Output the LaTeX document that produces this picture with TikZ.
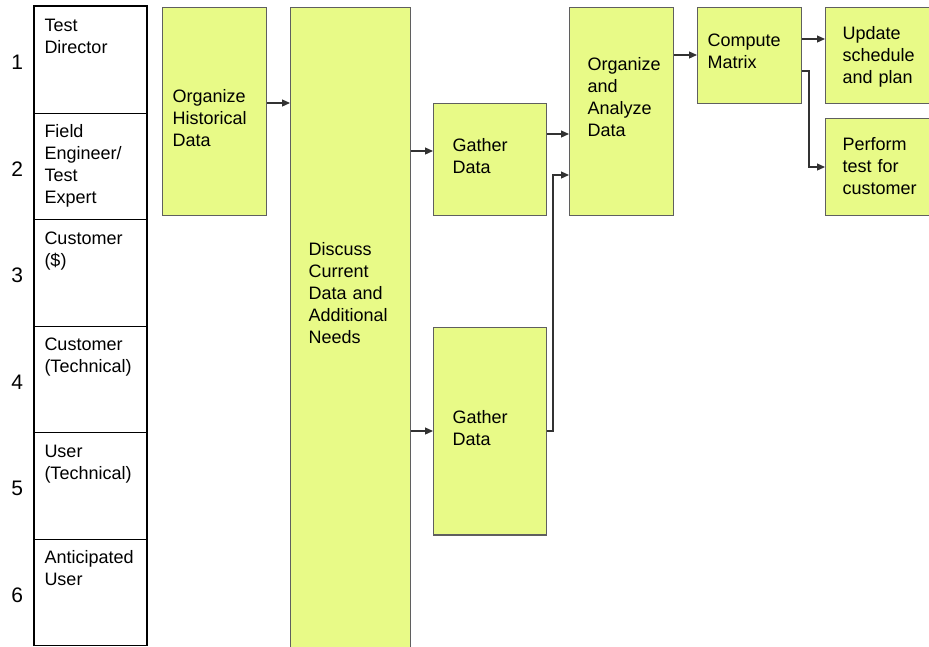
\documentclass[tikz,border=0pt]{standalone}
\usepackage{fontspec}
\setmainfont{Liberation Sans}
\usepackage{tikz}
\usetikzlibrary{positioning, arrows.meta}
\definecolor{boxfill}{RGB}{232,250,135}
\definecolor{boxline}{RGB}{95,95,95}
\definecolor{flowline}{RGB}{50,50,50}

\begin{document}
\begin{tikzpicture}[
	x=1pt, y=-1pt,
	every node/.style={inner sep=0pt, font=\fontsize{18}{22}\selectfont},
	lane/.style={draw, line width=1pt, anchor=north west, minimum width=112pt, minimum height=106.5pt,
		text width=92pt, align=left, text height=13pt, text depth=69.7pt},
	lanenum/.style={font=\fontsize{21}{25}\selectfont, yshift=-3pt},
	stepbox/.style={draw=boxline, fill=boxfill, line width=1.2pt, anchor=north west, align=left, text height=13pt},
	flow/.style={draw=flowline, line width=1.2pt, -{Triangle[length=8pt, width=7pt]}},
	]
	\useasboundingbox (0,0) rectangle (929,646);
	
	% roles
	\foreach \i/\who in {1/{Test\\Director}, 2/{Field\\Engineer/\\Test\\Expert}, 3/{Customer\\(\$)},
		4/{Customer\\(Technical)}, 5/{User\\(Technical)}, 6/{Anticipated\\User}} {
		\node[lane] (lane\i) at (34, {6+(\i-1)*106.5}) {\who};
		\node[lanenum, left=10.7pt of lane\i.west] (num\i) {\i};
	}
	\draw[line width=2.5pt] (lane6.south west) -- (lane1.north west) -- (lane1.north east) -- (lane6.south east);
	
	% steps
	\node[stepbox, minimum width=104pt, minimum height=208pt, text width=84pt, text depth=31.2pt] (hist) at (162,7) {Organize\\Historical\\Data};
	\node[stepbox, minimum width=120pt, minimum height=673pt, text width=84pt, text depth=190.8pt] (discuss) at (290,7) {Discuss\\Current\\Data and\\Additional\\Needs};
	\node[stepbox, minimum width=113pt, minimum height=112pt, text width=75pt, text depth=28.6pt] (gather1) at (433,103) {Gather\\Data};
	\node[stepbox, minimum width=113pt, minimum height=207.3pt, text width=75pt, text depth=28.5pt] (gather2) at (433,327) {Gather\\Data};
	\node[stepbox, minimum width=104pt, minimum height=208pt, text width=68pt, text depth=94.6pt] (analyze) at (569,7) {Organize\\and\\Analyze\\Data};
	\node[stepbox, minimum width=104pt, minimum height=96pt, text width=84pt, text depth=30.6pt] (compute) at (697,7) {Compute\\Matrix};
	\node[stepbox, minimum width=124pt, minimum height=96pt, text width=90pt, text depth=45.2pt] (update) at (825,7) {Update\\schedule\\and plan};
	\node[stepbox, minimum width=124pt, minimum height=97pt, text width=90pt, text depth=45.6pt] (perform) at (825,118) {Perform\\test for\\customer};
	
	% flow
	\draw[flow] (hist.east |- 0,103) -- (discuss.west |- 0,103);
	\draw[flow] (discuss.east |- 0,151) -- (gather1.west |- 0,151);
	\draw[flow] (discuss.east |- 0,431) -- (gather2.west |- 0,431);
	\draw[flow] (gather1.east |- 0,134) -- (analyze.west |- 0,134);
	\draw[flow] (gather2.east |- 0,431) -| (553,175) -- (analyze.west |- 0,175);
	\draw[flow] (analyze.east |- 0,55) -- (compute.west |- 0,55);
	\draw[flow] (compute.east |- 0,39) -- (update.west |- 0,39);
	\draw[flow] (compute.east |- 0,71) -| (809,167) -- (perform.west |- 0,167);
	
\end{tikzpicture}
\end{document}
